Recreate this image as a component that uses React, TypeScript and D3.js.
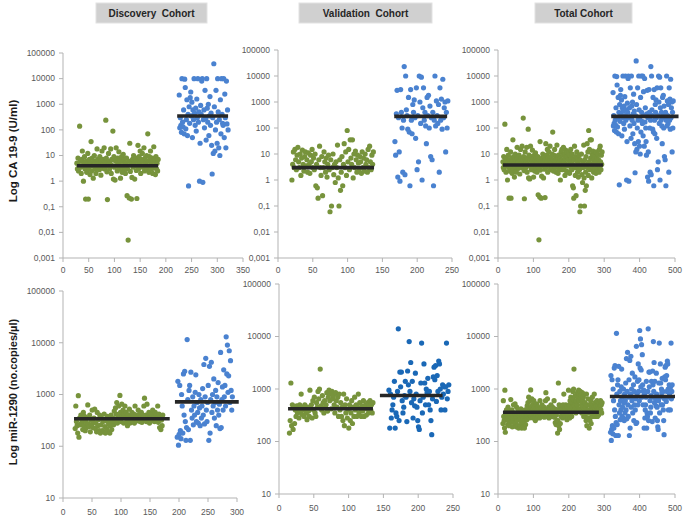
import React from "react";
import * as d3 from "d3";

// ---------------- DATA ----------------
const titles = ["Discovery  Cohort", "Validation  Cohort", "Total Cohort"];
const yLabels = ["Log CA 19-9 (U/ml)", "Log miR-1290 (no.copies/\u00b5l)"];

const caTicks = [0.001, 0.01, 0.1, 1, 10, 100, 1000, 10000, 100000];
const caTickLabels = ["0,001", "0,01", "0,1", "1", "10", "100", "1000", "10000", "100000"];
const mirTicks = [10, 100, 1000, 10000, 100000];
const mirTickLabels = ["10", "100", "1000", "10000", "100000"];

const xTicksDiscCA = [0, 50, 100, 150, 200, 250, 300, 350];
const xTicksVal = [0, 50, 100, 150, 200, 250];
const xTicksTotal = [0, 100, 200, 300, 400, 500];
const xTicksDiscMir = [0, 50, 100, 150, 200, 250, 300];

// Discovery CA 19-9
const discCAGreen = [
  5, 3, 8, 2.5, 4, 140, 6, 3.5, 2, 7,
  15, 4, 1.0, 5, 9, 3, 0.2, 6, 2.2, 4.5,
  12, 0.2, 3, 7, 1.8, 5, 35, 2.5, 8, 4,
  1.3, 6, 10, 3, 5, 2, 4, 18, 7, 3,
  5, 2.8, 9, 4, 1.7, 6, 15, 3.2, 7, 4.5,
  20, 3, 5.5, 240, 8, 2.3, 0.19, 4, 12, 6,
  3, 5, 18, 2, 7, 4, 90, 1.2, 9, 3.5,
  1.1, 6, 20, 4, 2.5, 8, 5, 14, 3, 6.5,
  1.3, 4, 9, 2.2, 6, 11, 3, 7, 5, 2,
  4.5, 8, 0.27, 3, 0.005, 6, 0.22, 30, 2.4, 5,
  0.2, 1.4, 7, 3.5, 10, 5, 1.2, 4, 8, 2.6,
  0.21, 6, 25, 3, 9, 5, 15, 2, 7, 4,
  12, 3.5, 6, 20, 2.5, 8, 5, 4, 10, 3,
  70, 6, 2.2, 9, 4, 15, 5.5, 3, 8, 2,
  6, 22, 4, 7, 1.8, 9, 3, 5, 2.5, 7,
];
const discCABlue = [
  2300, 120, 300, 150, 80, 10000, 200, 130, 600, 70,
  9500, 4500, 110, 250, 1500, 60, 400, 0.65, 800, 180,
  1800, 3000, 350, 1200, 50, 600, 250, 10000, 450, 150,
  700, 90, 1600, 300, 10000, 200, 500, 1.0, 30, 900,
  400, 8000, 10000, 0.9, 250, 600, 120, 3500, 280, 40,
  10000, 700, 200, 1000, 60, 350, 2000, 150, 450, 25,
  1.9, 300, 12, 38000, 800, 15, 100, 3500, 200, 30,
  10000, 500, 20, 250, 10, 1500, 70, 10000, 400, 180,
  150, 10000, 50, 2500, 300, 20, 8000, 170, 600, 100,
];

// Validation CA 19-9
const valCAGreen = [
  1.0, 4, 12, 3, 15, 6, 2.5, 9, 18, 5,
  3, 10, 1.5, 7, 14, 4, 2.2, 8, 12, 3.5,
  6, 2, 11, 4, 1.8, 9, 5, 15, 3, 7,
  2.5, 10, 0.6, 4, 0.5, 0.2, 6, 20, 3, 1.5,
  8, 0.25, 3, 12, 5, 2, 7, 1.3, 4, 9,
  2.5, 0.06, 6, 0.1, 3, 10, 1.6, 4, 0.8, 5,
  3, 22, 1.2, 0.1, 6, 0.4, 2, 8, 0.6, 4,
  25, 3, 12, 1.5, 80, 5, 15, 2.5, 35, 7,
  4, 35, 1.2, 10, 3, 13, 6, 2, 9, 4.5,
  2.5, 8, 5, 1.8, 12, 3, 7, 2.2, 10, 4,
  6, 2, 15, 3, 20, 5, 2.5, 9, 4, 12,
];
const valCABlue = [
  30, 9, 350, 2800, 1.3, 250, 12, 0.9, 3000, 400,
  100, 2, 200, 23000, 1.6, 10000, 500, 300, 90, 1500,
  70, 0.6, 3000, 200, 60, 800, 400, 1200, 250, 40,
  3500, 2.5, 300, 5, 10000, 1000, 150, 9000, 1.0, 600,
  3500, 200, 400, 120, 25, 1500, 300, 1800, 100, 700,
  8, 250, 6, 400, 0.6, 200, 10000, 120, 1100, 300,
  150, 800, 2, 3500, 200, 1300, 90, 7500, 250, 600,
  1000, 12, 400, 100, 1100,
];

// Discovery miR-1290
const discMirGreen = [
  220, 600, 300, 250, 180, 950, 150, 350, 260, 400,
  280, 320, 210, 450, 250, 380, 200, 300, 230, 350,
  630, 270, 240, 400, 190, 320, 260, 500, 230, 300,
  350, 520, 220, 280, 190, 450, 250, 330, 200, 400,
  180, 260, 350, 200, 300, 190, 420, 240, 180, 310,
  220, 380, 190, 270, 330, 180, 250, 400, 210, 300,
  350, 260, 480, 300, 550, 420, 700, 280, 380, 600,
  320, 960, 450, 300, 650, 380, 500, 280, 420, 600,
  350, 450, 300, 250, 400, 320, 520, 280, 380, 340,
  450, 300, 360, 420, 280, 600, 340, 400, 310, 380,
  500, 330, 420, 300, 370, 450, 290, 400, 350, 600,
  850, 320, 400, 300, 650, 380, 330, 450, 280, 400,
  360, 420, 310, 500, 340, 380, 300, 450, 330, 400,
  350, 600, 290, 420, 230, 380, 210, 320, 250, 400,
];
const discMirBlue = [
  150, 1800, 105, 170, 1500, 200, 140, 1000, 600, 180,
  2500, 400, 2800, 300, 130, 230, 11500, 800, 210, 1200,
  1500, 130, 2700, 500, 350, 900, 260, 600, 400, 1100,
  2400, 300, 700, 450, 280, 1000, 550, 250, 800, 350,
  600, 1300, 400, 3800, 270, 900, 5000, 500, 300, 700,
  1500, 130, 3500, 180, 800, 4200, 450, 1000, 600, 2000,
  350, 700, 1200, 250, 900, 500, 1700, 400, 650, 220,
  6500, 230, 800, 1400, 500, 3000, 900, 1500, 600, 13000,
  2500, 9000, 1100, 2300, 7000, 700, 4500, 1200, 500, 900,
];

// Validation miR-1290
const valMirGreen = [
  145, 250, 1300, 200, 500, 170, 450, 220, 400, 300,
  480, 350, 420, 280, 500, 380, 800, 330, 450, 400,
  300, 500, 420, 350, 260, 450, 380, 300, 950, 420,
  500, 280, 600, 400, 700, 350, 300, 550, 450, 900,
  650, 1000, 2400, 480, 400, 750, 550, 350, 600, 450,
  500, 850, 380, 700, 950, 600, 800, 420, 900, 650,
  750, 500, 350, 850, 600, 450, 700, 300, 800, 400,
  550, 300, 450, 250, 800, 200, 500, 350, 650, 280,
  400, 180, 500, 250, 350, 600, 220, 450, 300, 700,
  400, 500, 300, 450, 800, 350, 550, 420, 300, 480,
  380, 600, 300, 450, 500, 320, 420, 550, 350, 480,
  600, 400, 500, 350, 550,
];
const valMirBlue = [
  950, 180, 800, 280, 400, 500, 700, 1400, 180, 350,
  300, 900, 14000, 250, 2100, 1100, 2100, 600, 350, 450,
  750, 1400, 700, 240, 2200, 1200, 8000, 900, 3200, 550,
  1400, 280, 650, 480, 2000, 800, 450, 250, 190, 170,
  600, 1300, 7500, 350, 700, 3000, 1300, 500, 1000, 850,
  1600, 500, 900, 400, 250, 135, 650, 1700, 2600, 1500,
  2800, 580, 1800, 900, 3400, 3000, 1000, 400, 700, 1200,
  800, 1100, 400, 1100, 7500, 650, 900, 1200,
];

// Total = Discovery followed by Validation
const totalCAGreen = [...discCAGreen, ...valCAGreen];
const totalCABlue = [...discCABlue, ...valCABlue];
const totalMirGreen = [...discMirGreen, ...valMirGreen];
const totalMirBlue = [...discMirBlue, ...valMirBlue];

// medians
const mediansCA = [[4, 350], [3, 280], [3.8, 280]];
const mediansMir = [[340, 720], [420, 750], [360, 720]];

// ---------------- LAYOUT ----------------
const GREEN = "#77933c";
const BLUE = "#4a82d0";
const BLUE_DARK = "#1a68b6";

type Panel = {
  xr: [number, number];
  yr: [number, number];
  xd: [number, number];
  yd: [number, number];
  xTicks: number[];
  yTicks: number[];
  yTickLabels: string[];
  green: number[];
  blue: number[];
  gSpan: [number, number];
  bSpan: [number, number];
  med: number[];
  gMed: [number, number];
  bMed: [number, number];
  blueColor: string;
  xLabelY: number;
};

const panels: Panel[] = [
  {
    xr: [63, 243], yr: [258, 53], xd: [0, 350], yd: [0.001, 100000],
    xTicks: xTicksDiscCA, yTicks: caTicks, yTickLabels: caTickLabels,
    green: discCAGreen, blue: discCABlue, gSpan: [27, 185], bSpan: [226, 321],
    med: mediansCA[0], gMed: [27, 185], bMed: [222, 321], blueColor: BLUE, xLabelY: 273,
  },
  {
    xr: [278, 452], yr: [258, 50], xd: [0, 250], yd: [0.001, 100000],
    xTicks: xTicksVal, yTicks: caTicks, yTickLabels: caTickLabels,
    green: valCAGreen, blue: valCABlue, gSpan: [20, 137], bSpan: [168, 244],
    med: mediansCA[1], gMed: [20, 138], bMed: [167, 243], blueColor: BLUE, xLabelY: 273,
  },
  {
    xr: [498, 675], yr: [258, 50], xd: [0, 500], yd: [0.001, 100000],
    xTicks: xTicksTotal, yTicks: caTicks, yTickLabels: caTickLabels,
    green: totalCAGreen, blue: totalCABlue, gSpan: [14, 294], bSpan: [325, 495],
    med: mediansCA[2], gMed: [14, 297], bMed: [320, 510], blueColor: BLUE, xLabelY: 273,
  },
  {
    xr: [63, 237], yr: [498, 291], xd: [0, 300], yd: [10, 100000],
    xTicks: xTicksDiscMir, yTicks: mirTicks, yTickLabels: mirTickLabels,
    green: discMirGreen, blue: discMirBlue, gSpan: [21, 172], bSpan: [197, 292],
    med: mediansMir[0], gMed: [19, 184], bMed: [193, 303], blueColor: BLUE, xLabelY: 515,
  },
  {
    xr: [279, 453], yr: [494, 284], xd: [0, 250], yd: [10, 100000],
    xTicks: xTicksVal, yTicks: mirTicks, yTickLabels: mirTickLabels,
    green: valMirGreen, blue: valMirBlue, gSpan: [15, 135], bSpan: [158, 244],
    med: mediansMir[1], gMed: [13, 135], bMed: [145, 235], blueColor: BLUE_DARK, xLabelY: 511,
  },
  {
    xr: [498, 675], yr: [494, 284], xd: [0, 500], yd: [10, 100000],
    xTicks: xTicksTotal, yTicks: mirTicks, yTickLabels: mirTickLabels,
    green: totalMirGreen, blue: totalMirBlue, gSpan: [14, 294], bSpan: [318, 492],
    med: mediansMir[2], gMed: [14, 285], bMed: [316, 500], blueColor: BLUE, xLabelY: 511,
  },
];

const titleBoxes = [
  { x: 96, w: 111 },
  { x: 299, w: 133 },
  { x: 535, w: 97 },
];

const FONT = "'Liberation Sans', Arial, sans-serif";
const AXIS = "#b3b3b3";
const TICKTXT = "#595959";

function PanelView({ p }: { p: Panel }) {
  const x = d3.scaleLinear().domain(p.xd).range(p.xr);
  const y = d3.scaleLog().domain(p.yd).range(p.yr);
  const gi = d3.scaleLinear().domain([0, p.green.length - 1]).range(p.gSpan);
  const bi = d3.scaleLinear().domain([0, p.blue.length - 1]).range(p.bSpan);
  const x0 = p.xr[0];
  const yb = p.yr[0];
  return (
    <g>
      <line x1={x0} x2={x0} y1={p.yr[1]} y2={yb} stroke={AXIS} strokeWidth={1} />
      <line x1={x0} x2={p.xr[1]} y1={yb} y2={yb} stroke={AXIS} strokeWidth={1} />
      {p.yTicks.map((t, i) => (
        <g key={"yt" + i}>
          <line x1={x0 - 4} x2={x0} y1={y(t)} y2={y(t)} stroke={AXIS} />
          <text x={x0 - 8} y={y(t)} dy="0.33em" textAnchor="end" fontSize={8.5} fill={TICKTXT} fontFamily={FONT}>
            {p.yTickLabels[i]}
          </text>
        </g>
      ))}
      {p.xTicks.map((t, i) => (
        <g key={"xt" + i}>
          <line x1={x(t)} x2={x(t)} y1={yb} y2={yb + 4} stroke={AXIS} />
          <text x={x(t)} y={p.xLabelY} textAnchor="middle" fontSize={8.5} fill={TICKTXT} fontFamily={FONT}>
            {t}
          </text>
        </g>
      ))}
      {p.green.map((v, i) => (
        <circle key={"g" + i} cx={x(gi(i))} cy={y(v)} r={2.6} fill={GREEN} />
      ))}
      {p.blue.map((v, i) => (
        <circle key={"b" + i} cx={x(bi(i))} cy={y(v)} r={2.6} fill={p.blueColor} />
      ))}
      <line x1={x(p.gMed[0])} x2={x(p.gMed[1])} y1={y(p.med[0])} y2={y(p.med[0])} stroke="#262626" strokeWidth={3.6} />
      <line x1={x(p.bMed[0])} x2={x(p.bMed[1])} y1={y(p.med[1])} y2={y(p.med[1])} stroke="#262626" strokeWidth={3.6} />
    </g>
  );
}

export default function App() {
  return (
    <svg
      width={685}
      height={518}
      style={{ position: "absolute", left: 0, top: 0, background: "#fff" }}
      xmlns="http://www.w3.org/2000/svg"
    >
      <rect x={0} y={0} width={685} height={518} fill="#fff" />
      {titleBoxes.map((b, i) => (
        <g key={"t" + i}>
          <rect x={b.x} y={3} width={b.w} height={20} fill="#d0d0d0" stroke="#e2e2e2" strokeWidth={1} />
          <text x={b.x + b.w / 2} y={13} dy="0.35em" textAnchor="middle" fontSize={10} fontWeight="bold" fill="#262626" fontFamily={FONT} style={{ whiteSpace: "pre" }}>
            {titles[i]}
          </text>
        </g>
      ))}
      <text transform="translate(13,151) rotate(-90)" textAnchor="middle" dy="0.35em" fontSize={11.5} fontWeight="bold" fill="#1a1a1a" fontFamily={FONT}>
        {yLabels[0]}
      </text>
      <text transform="translate(13,392) rotate(-90)" textAnchor="middle" dy="0.35em" fontSize={11} fontWeight="bold" fill="#1a1a1a" fontFamily={FONT}>
        {yLabels[1]}
      </text>
      {panels.map((p, i) => (
        <PanelView key={i} p={p} />
      ))}
    </svg>
  );
}
